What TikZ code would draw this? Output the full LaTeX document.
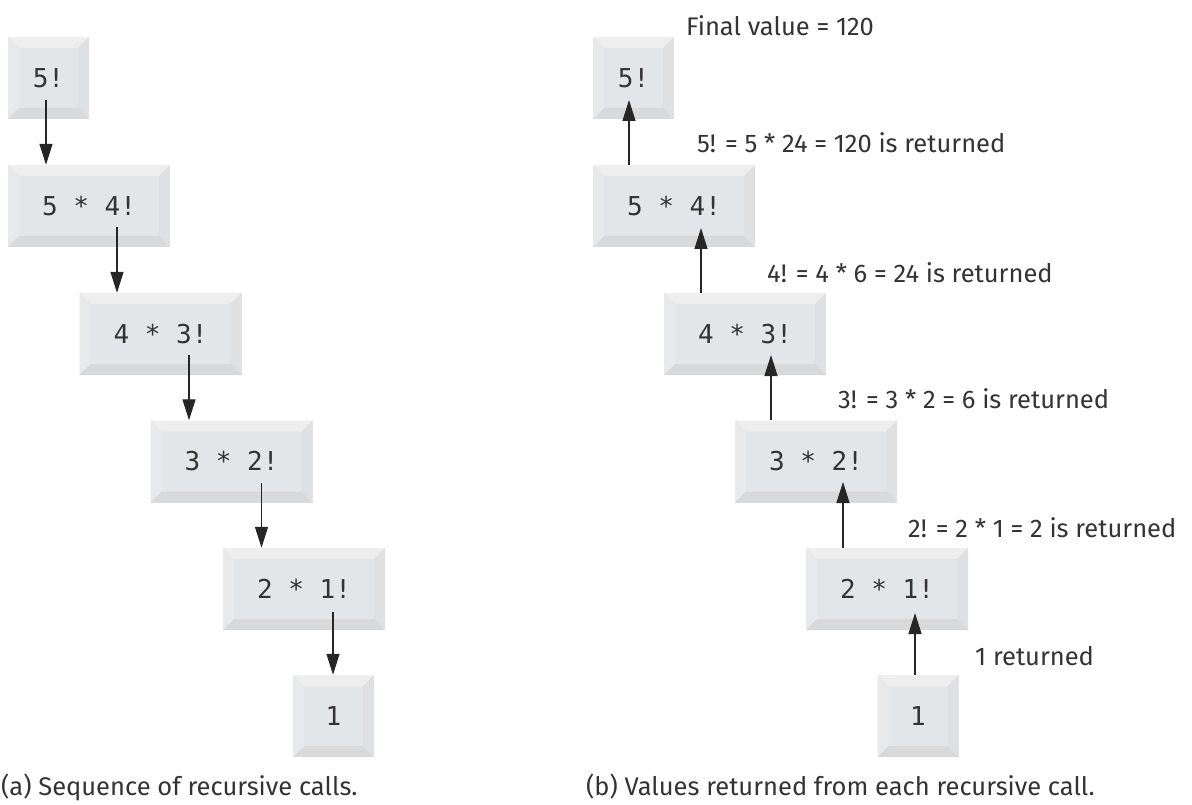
\documentclass[tikz,border=0pt]{standalone}
\usepackage{fontspec}
\setmainfont{Fira Sans}
\newfontfamily\boxfont{DejaVu Sans Mono}
\usetikzlibrary{arrows.meta,calc}
\definecolor{face}{HTML}{E3E6E9}
\definecolor{bevtop}{HTML}{EEEEEE}
\definecolor{bevleft}{HTML}{E8E9EA}
\definecolor{bevright}{HTML}{DFE0E1}
\definecolor{bevbot}{HTML}{D8D9DA}
\definecolor{txt}{HTML}{333333}
\newcommand{\bw}{11pt}
\tikzset{
  bev/.style={rectangle, inner sep=0pt, fill=face, minimum height=82pt,
    font=\boxfont\fontsize{26}{30}\selectfont, text=txt,
    path picture={
      \fill[bevtop] (path picture bounding box.north west) -- (path picture bounding box.north east)
        -- ([shift={(-\bw,-\bw)}]path picture bounding box.north east) -- ([shift={(\bw,-\bw)}]path picture bounding box.north west) -- cycle;
      \fill[bevleft] (path picture bounding box.north west) -- ([shift={(\bw,-\bw)}]path picture bounding box.north west)
        -- ([shift={(\bw,\bw)}]path picture bounding box.south west) -- (path picture bounding box.south west) -- cycle;
      \fill[bevbot] (path picture bounding box.south west) -- (path picture bounding box.south east)
        -- ([shift={(-\bw,\bw)}]path picture bounding box.south east) -- ([shift={(\bw,\bw)}]path picture bounding box.south west) -- cycle;
      \fill[bevright] (path picture bounding box.north east) -- (path picture bounding box.south east)
        -- ([shift={(-\bw,\bw)}]path picture bounding box.south east) -- ([shift={(-\bw,-\bw)}]path picture bounding box.north east) -- cycle;
    }},
  smallbox/.style={bev, minimum width=81pt},
  widebox/.style={bev, minimum width=162pt},
  arr/.style={-{Triangle[length=21pt,width=13pt]}, line width=1.3pt, draw=black!85},
  lab/.style={anchor=base west, inner sep=0pt, text=txt, font=\fontsize{25.5}{30}\selectfont},
}
\begin{document}
\begin{tikzpicture}[x=1pt,y=-1pt]
\useasboundingbox (0,0) rectangle (1192,805);
% (a)
\node[smallbox] (A1) at (48.5,78) {5!};
\node[widebox]  (A2) at (89,206) {5 * 4!};
\node[widebox]  (A3) at (160.5,334) {4 * 3!};
\node[widebox]  (A4) at (231.5,461.5) {3 * 2!};
\node[widebox]  (A5) at (304,589) {2 * 1!};
\node[smallbox] (A6) at (333.5,716) {1};
\coordinate (a1s) at ([xshift=-2.5pt,yshift=-22pt]A1.center);
\coordinate (a2s) at ([xshift=28pt,yshift=-21pt]A2.center);
\coordinate (a3s) at ([xshift=28.5pt,yshift=-21pt]A3.center);
\coordinate (a4s) at ([xshift=30pt,yshift=-21.5pt]A4.center);
\coordinate (a5s) at ([xshift=29pt,yshift=-23pt]A5.center);
\draw[arr] (a1s) -- (a1s |- A2.north);
\draw[arr] (a2s) -- (a2s |- A3.north);
\draw[arr] (a3s) -- (a3s |- A4.north);
\draw[arr] (a4s) -- (a4s |- A5.north);
\draw[arr] (a5s) -- (a5s |- A6.north);
% (b)
\node[smallbox] (B1) at (633.5,78) {5!};
\node[widebox]  (B2) at (674,206) {5 * 4!};
\node[widebox]  (B3) at (745,334) {4 * 3!};
\node[widebox]  (B4) at (816,461.5) {3 * 2!};
\node[widebox]  (B5) at (887,589) {2 * 1!};
\node[smallbox] (B6) at (918,716) {1};
\coordinate (b1t) at ([xshift=-4.5pt,yshift=-22pt]B1.center);
\coordinate (b2t) at ([xshift=27pt,yshift=-22pt]B2.center);
\coordinate (b3t) at ([xshift=26pt,yshift=-21pt]B3.center);
\coordinate (b4t) at ([xshift=27pt,yshift=-20.5pt]B4.center);
\coordinate (b5t) at ([xshift=28pt,yshift=-24pt]B5.center);
\draw[arr] (b1t |- B2.north) -- (b1t);
\draw[arr] (b2t |- B3.north) -- (b2t);
\draw[arr] (b3t |- B4.north) -- (b3t);
\draw[arr] (b4t |- B5.north) -- (b4t);
\draw[arr] (b5t |- B6.north) -- (b5t);
% labels
\node[lab] (L0) at (686,36) {Final value = 120};
\node[lab] (L1) at (697,153) {5! = 5 * 24 = 120 is returned};
\node[lab] (L2) at (767,283) {4! = 4 * 6 = 24 is returned};
\node[lab] (L3) at (838,408) {3! = 3 * 2 = 6 is returned};
\node[lab] (L4) at (908,537) {2! = 2 * 1 = 2 is returned};
\node[lab] (L5) at (975,665) {1 returned};
\node[lab] (CA) at (1,795) {(a) Sequence of recursive calls.};
\node[lab] (CB) at (586,795) {(b) Values returned from each recursive call.};
\end{tikzpicture}
\end{document}
